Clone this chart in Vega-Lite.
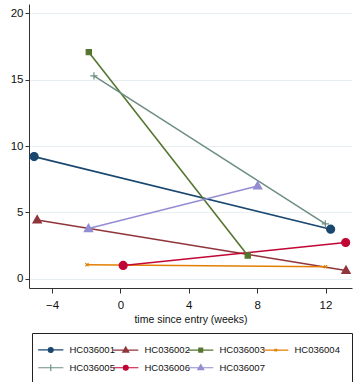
{
  "$schema": "https://vega.github.io/schema/vega-lite/v6.json",
  "width": 323,
  "height": 284,
  "autosize": {"type": "none"},
  "padding": {"left": 29, "top": 4, "right": 3, "bottom": 94},
  "background": "white",
  "config": {
    "view": {"stroke": null},
    "font": "Liberation Sans",
    "axis": {
      "domainColor": "#333333",
      "tickColor": "#333333",
      "labelColor": "#111111",
      "titleColor": "#111111",
      "labelFontSize": 11.5,
      "titleFontSize": 10.5,
      "titleFontWeight": "normal",
      "tickSize": 5
    },
    "legend": {
      "orient": "none", "legendX": 3, "legendY": 329, "columns": 4, "direction": "horizontal",
      "strokeColor": "#222222", "fillColor": "white", "padding": 12,
      "symbolSize": 49, "symbolStrokeWidth": 1.2, "symbolOffset": 2,
      "labelFontSize": 9.5, "labelColor": "#111111", "labelOffset": 14,
      "columnPadding": -5, "rowPadding": 7
    }
  },
  "data": {
    "values": [
      {"id": "HC036001", "time": -5.05, "value": 9.2},
      {"id": "HC036001", "time": 12.3, "value": 3.73},
      {"id": "HC036002", "time": -4.87, "value": 4.43},
      {"id": "HC036002", "time": 13.2, "value": 0.62},
      {"id": "HC036003", "time": -1.85, "value": 17.07},
      {"id": "HC036003", "time": 7.45, "value": 1.75},
      {"id": "HC036004", "time": -1.96, "value": 1.05},
      {"id": "HC036004", "time": 12.0, "value": 0.9},
      {"id": "HC036005", "time": -1.55, "value": 15.28},
      {"id": "HC036005", "time": 11.99, "value": 4.13},
      {"id": "HC036006", "time": 0.16, "value": 1.0},
      {"id": "HC036006", "time": 13.18, "value": 2.73},
      {"id": "HC036007", "time": -1.87, "value": 3.78},
      {"id": "HC036007", "time": 8.03, "value": 6.99}
    ]
  },
  "encoding": {
    "x": {
      "field": "time", "type": "quantitative",
      "scale": {"domain": [-5.35, 13.55], "nice": false, "zero": false},
      "axis": {"values": [-4, 0, 4, 8, 12], "grid": false, "title": "time since entry (weeks)", "labelPadding": 6, "titlePadding": 4}
    },
    "y": {
      "field": "value", "type": "quantitative",
      "scale": {"domain": [-0.7, 20.7], "nice": false, "zero": false},
      "axis": {"values": [0, 5, 10, 15, 20], "title": null, "grid": true, "gridColor": "#e6eff1", "gridWidth": 1.2, "tickSize": 4, "labelPadding": 2}
    }
  },
  "layer": [
    {
      "mark": {"type": "line", "opacity": 1},
      "encoding": {
        "color": {
          "field": "id", "type": "nominal", "legend": null,
          "scale": {
            "domain": ["HC036001", "HC036002", "HC036003", "HC036004", "HC036005", "HC036006", "HC036007"],
            "range": ["#1a476f", "#90353b", "#55752f", "#e37e00", "#6e8e84", "#c10534", "#938dd2"]
          }
        },
        "strokeWidth": {
          "field": "id", "type": "nominal", "legend": null,
          "scale": {
            "domain": ["HC036001", "HC036002", "HC036003", "HC036004", "HC036005", "HC036006", "HC036007"],
            "range": [1.6, 1.5, 1.1, 1.5, 1.1, 1.5, 1.5]
          }
        }
      }
    },
    {
      "mark": {"type": "point", "filled": true, "opacity": 1, "size": 64, "strokeWidth": 1.2, "stroke": {"expr": "scale('color', datum.id)"}},
      "encoding": {
        "color": {"field": "id", "type": "nominal", "legend": null},
        "shape": {
          "field": "id", "type": "nominal", "legend": null,
          "scale": {
            "domain": ["HC036001", "HC036002", "HC036003", "HC036004", "HC036005", "HC036006", "HC036007"],
            "range": [
              "M-1,0A1,1,0,1,0,1,0A1,1,0,1,0,-1,0Z",
              "M0,-1.1L1.05,0.75H-1.05Z",
              "M-0.65,-0.65H0.65V0.65H-0.65Z",
              "M-0.4,-0.4L0.4,0.4M0.4,-0.4L-0.4,0.4",
              "M-0.9,0H0.9M0,-0.9V0.9",
              "M-1,0A1,1,0,1,0,1,0A1,1,0,1,0,-1,0Z",
              "M0,-1.1L1.05,0.75H-1.05Z"
            ]
          }
        }
      }
    },
    {
      "transform": [{"filter": "datum.time > 1000"}],
      "mark": {"type": "point", "filled": true, "opacity": 1},
      "encoding": {
        "fill": {
          "field": "id", "type": "nominal",
          "scale": {
            "domain": ["HC036001", "HC036002", "HC036003", "HC036004", "HC036005", "HC036006", "HC036007"],
            "range": ["#1a476f", "#90353b", "#55752f", "#e37e00", "#6e8e84", "#c10534", "#938dd2"]
          },
          "legend": {"title": null}
        },
        "stroke": {
          "field": "id", "type": "nominal",
          "scale": {
            "domain": ["HC036001", "HC036002", "HC036003", "HC036004", "HC036005", "HC036006", "HC036007"],
            "range": ["#1a476f", "#90353b", "#55752f", "#e37e00", "#6e8e84", "#c10534", "#938dd2"]
          },
          "legend": {"title": null}
        },
        "shape": {
          "field": "id", "type": "nominal",
          "scale": {
            "domain": ["HC036001", "HC036002", "HC036003", "HC036004", "HC036005", "HC036006", "HC036007"],
            "range": [
              "M-3.6,0H3.6M-0.7,0A0.7,0.7,0,1,0,0.7,0A0.7,0.7,0,1,0,-0.7,0Z",
              "M-3.6,0H3.6M0,-0.9L0.85,0.55H-0.85Z",
              "M-3.6,0H3.6M-0.55,-0.55H0.55V0.55H-0.55Z",
              "M-3.6,0H3.6M-0.35,-0.35L0.35,0.35M0.35,-0.35L-0.35,0.35",
              "M-3.6,0H3.6M0,-0.9V0.9",
              "M-3.6,0H3.6M-0.7,0A0.7,0.7,0,1,0,0.7,0A0.7,0.7,0,1,0,-0.7,0Z",
              "M-3.6,0H3.6M0,-0.9L0.85,0.55H-0.85Z"
            ]
          },
          "legend": {"title": null}
        }
      }
    }
  ],
  "resolve": {
    "scale": {"shape": "independent", "fill": "independent", "stroke": "independent"},
    "legend": {"shape": "independent", "fill": "independent", "stroke": "independent"}
  }
}
